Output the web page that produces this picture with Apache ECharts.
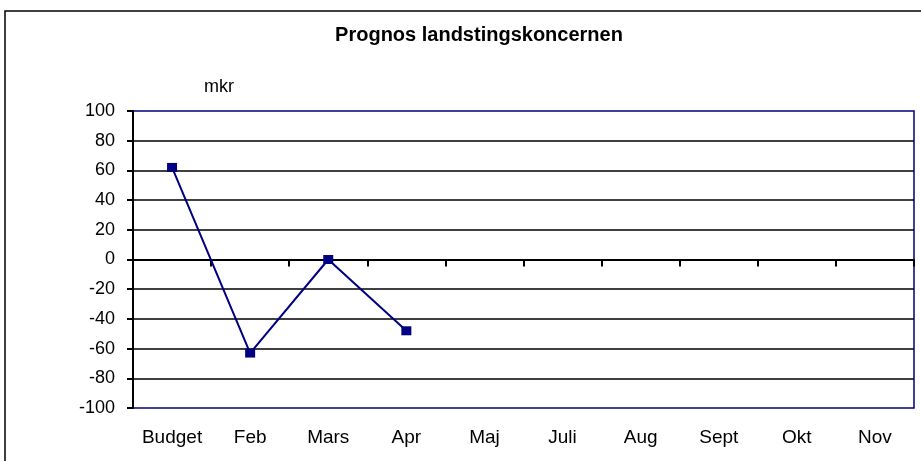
<!DOCTYPE html>
<html>
<head>
<meta charset="utf-8">
<script src="https://cdn.jsdelivr.net/npm/echarts@6/dist/echarts.min.js"></script>
<style>
  html, body { margin: 0; padding: 0; background: #fff; }
  #chart { width: 921px; height: 461px; }
</style>
</head>
<body>
<div id="chart"></div>
<script>
// Data
const months = ['Budget', 'Feb', 'Mars', 'Apr', 'Maj', 'Juli', 'Aug', 'Sept', 'Okt', 'Nov'];
const prognos = [62, -63, 0, -48, null, null, null, null, null, null];
const yMin = -100;
const yMax = 100;
const yStep = 20;

const font = '"Liberation Sans", Arial, sans-serif';
const navy = '#000080';

const chart = echarts.init(document.getElementById('chart'), null, { renderer: 'canvas' });

chart.setOption({
    animation: false,
    backgroundColor: '#fff',
    title: {
        text: 'Prognos landstingskoncernen',
        left: 474,
        top: 20,
        textAlign: 'center',
        textStyle: { fontFamily: font, fontSize: 20, fontWeight: 'bold', color: '#000' }
    },
    graphic: [
        {
            type: 'rect',
            shape: { x: 5, y: 11, width: 940, height: 480 },
            style: { fill: null, stroke: '#000', lineWidth: 1.5 },
            silent: true
        },
        {
            type: 'text',
            left: 204,
            top: 78,
            style: { text: 'mkr', font: '18px "Liberation Sans", Arial, sans-serif', fill: '#000' }
        }
    ],
    grid: {
        left: 133,
        right: 7,
        top: 111,
        bottom: 53,
        show: true,
        borderColor: navy,
        borderWidth: 1.5
    },
    xAxis: [
        {
            // axis drawn through zero with ticks between categories
            type: 'category',
            data: months,
            boundaryGap: true,
            axisLine: { onZero: true, lineStyle: { color: '#000', width: 2 } },
            axisTick: { show: true, interval: 0, length: 7, lineStyle: { color: '#000', width: 2 } },
            axisLabel: { show: false }
        },
        {
            // labels along the bottom
            type: 'category',
            data: months,
            position: 'bottom',
            boundaryGap: true,
            axisLine: { show: false, onZero: false },
            axisTick: { show: false },
            axisLabel: { interval: 0, hideOverlap: false, margin: 20, fontFamily: font, fontSize: 19, color: '#000' }
        }
    ],
    yAxis: {
        type: 'value',
        min: yMin,
        max: yMax,
        interval: yStep,
        axisLine: { show: true, lineStyle: { color: '#000', width: 2 } },
        axisTick: { show: true, length: 6, lineStyle: { color: '#000', width: 2 } },
        axisLabel: { margin: 18, fontFamily: font, fontSize: 18, color: '#000' },
        splitLine: { show: true, showMinLine: false, showMaxLine: false, lineStyle: { color: '#000', width: 1.6 } }
    },
    series: [
        {
            type: 'line',
            data: prognos,
            xAxisIndex: 0,
            symbol: 'rect',
            symbolSize: [10, 9],
            connectNulls: false,
            lineStyle: { color: navy, width: 2 },
            itemStyle: { color: navy }
        }
    ]
});
</script>
</body>
</html>
